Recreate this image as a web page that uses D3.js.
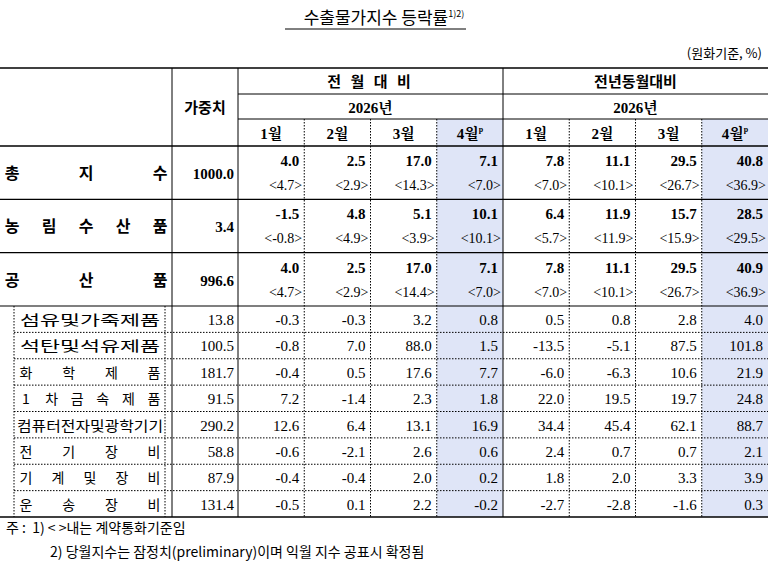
<!DOCTYPE html><html><head><meta charset="utf-8">
<script src="https://cdn.jsdelivr.net/npm/d3@7"></script>
<style>body{margin:0;background:#fff}</style></head><body>
<svg id="c" width="768" height="567"></svg>
<script>
const months=["1월","2월","3월","4월"];
const groups=["전 월 대 비","전년동월대비"];
const majorRows=["총 지 수","농 림 수 산 품","공 산 품"];
const majorWeights=["1000.0","3.4","996.6"];
const majorVals=[[4.0,2.5,17.0,7.1,7.8,11.1,29.5,40.8],[-1.5,4.8,5.1,10.1,6.4,11.9,15.7,28.5],[4.0,2.5,17.0,7.1,7.8,11.1,29.5,40.9]];
const majorContract=[[4.7,2.9,14.3,7.0,7.0,10.1,26.7,36.9],[-0.8,4.9,3.9,10.1,5.7,11.9,15.9,29.5],[4.7,2.9,14.4,7.0,7.0,10.1,26.7,36.9]];
const subRows=["섬유및가죽제품","석탄및석유제품","화 학 제 품","1 차 금 속 제 품","컴퓨터,전자및광학기기","전 기 장 비","기 계 및 장 비","운 송 장 비"];
const subWeights=["13.8","100.5","181.7","91.5","290.2","58.8","87.9","131.4"];
const subVals=[[-0.3,-0.3,3.2,0.8,0.5,0.8,2.8,4.0],[-0.8,7.0,88.0,1.5,-13.5,-5.1,87.5,101.8],[-0.4,0.5,17.6,7.7,-6.0,-6.3,10.6,21.9],[7.2,-1.4,2.3,1.8,22.0,19.5,19.7,24.8],[12.6,6.4,13.1,16.9,34.4,45.4,62.1,88.7],[-0.6,-2.1,2.6,0.6,2.4,0.7,0.7,2.1],[-0.4,-0.4,2.0,0.2,1.8,2.0,3.3,3.9],[-0.5,0.1,2.2,-0.2,-2.7,-2.8,-1.6,0.3]];

const svg=d3.select("#c");
const SERIF="'Liberation Serif','Noto Serif CJK KR','Noto Sans CJK KR',serif";
const KR="'Noto Sans CJK KR',sans-serif";
const x=d3.scaleLinear().domain([0,8]).range([238,768]);
const colX=i=>x(i);
const f1=d3.format(".1f");
const fmt=v=>f1(v).replace("\u2212","-");
const yTop=68,yH1=94,yH2=119,yH3=146;
const majorY=d3.scaleLinear().domain([0,3]).range([146,306]);
const subY=d3.scaleLinear().domain([0,8]).range([306,517]);

[3,7].forEach(i=>svg.append("rect").attr("x",colX(i)).attr("y",yH2).attr("width",colX(i+1)-colX(i)).attr("height",517-yH2).attr("fill","#dfe5f7"));

function line(x1,y1,x2,y2,dash,w){svg.append("line").attr("x1",x1).attr("y1",y1).attr("x2",x2).attr("y2",y2).attr("stroke","#000").attr("stroke-width",w||1).attr("stroke-dasharray",dash?"1.5,1.5":null);}
svg.append("text").attr("x",384).attr("y",24).attr("text-anchor","middle").attr("font-family",KR).attr("font-size",17).text("수출물가지수 등락률").append("tspan").attr("font-size",9).attr("dy",-7).text("1)2)");
line(285,29,466,29,false,1);
svg.append("text").attr("x",762).attr("y",58).attr("text-anchor","end").attr("font-family",KR).attr("font-size",13).text("(원화기준, %)");

line(0,yTop,768,yTop,false,1.5);
line(238,yH1,768,yH1);line(238,yH2,768,yH2);
line(0,yH3,768,yH3,false,1.5);
[1,2,3].forEach(i=>line(0,majorY(i),768,majorY(i),false,1.2));
[1,2,3,4,5,6,7].forEach(i=>line(14,subY(i),768,subY(i),true));
line(0,517,768,517,false,1.5);
line(172,yTop,172,517);line(238,yTop,238,517);line(colX(4),yTop,colX(4),517);
[1,2,3,5,6,7].forEach(i=>line(colX(i),yH2,colX(i),517,true));
line(14,306,14,517,true);line(165,306,165,517,true);

groups.forEach((g,k)=>{
 svg.append("text").attr("x",(colX(k*4)+colX(k*4+4))/2).attr("y",87).attr("text-anchor","middle").attr("font-family",KR).attr("font-weight","bold").attr("font-size",15).attr("letter-spacing",k===0?3:0).text(g);
 svg.append("text").attr("x",(colX(k*4)+colX(k*4+4))/2).attr("y",113).attr("text-anchor","middle").attr("font-family",SERIF).attr("font-weight","bold").attr("font-size",15).text("2026년");
});
svg.append("text").attr("x",205).attr("y",113).attr("text-anchor","middle").attr("font-family",KR).attr("font-weight","bold").attr("font-size",15).text("가중치");
for(let i=0;i<8;i++){
 const t=svg.append("text").attr("x",(colX(i)+colX(i+1))/2).attr("y",139).attr("text-anchor","middle").attr("font-family",SERIF).attr("font-weight","bold").attr("font-size",15).text(months[i%4]);
 if(i%4===3)t.append("tspan").attr("font-size",8).attr("dy",-7).text("p");
}

majorRows.forEach((r,j)=>{
 const y0=majorY(j);
 const chars=r.split(" ");
 const lx=d3.scaleLinear().domain([0,chars.length-1]).range([12,160]);
 chars.forEach((c,k)=>svg.append("text").attr("x",lx(k)).attr("y",y0+33).attr("text-anchor","middle").attr("font-family",KR).attr("font-weight","bold").attr("font-size",16).text(c));
 svg.append("text").attr("x",234).attr("y",y0+33).attr("text-anchor","end").attr("font-family",SERIF).attr("font-weight","bold").attr("font-size",15).text(majorWeights[j]);
 majorVals[j].forEach((v,i)=>{
  svg.append("text").attr("x",colX(i+1)-5).attr("y",y0+20).attr("text-anchor","end").attr("font-family",SERIF).attr("font-weight","bold").attr("font-size",15).text(fmt(v));
  svg.append("text").attr("x",colX(i+1)-2).attr("y",y0+44).attr("text-anchor","end").attr("font-family",SERIF).attr("font-size",14).text("<"+fmt(majorContract[j][i])+">");
 });
});
subRows.forEach((r,j)=>{
 const y0=subY(j)+19;
 if(r.includes(" ")){
  const chars=r.split(" ");
  const lx=d3.scaleLinear().domain([0,chars.length-1]).range([26,154]);
  chars.forEach((c,k)=>svg.append("text").attr("x",lx(k)).attr("y",y0).attr("text-anchor","middle").attr("font-family",KR).attr("font-size",14).text(c));
 } else {
  svg.append("text").attr("x",90).attr("y",y0).attr("text-anchor","middle").attr("font-family",KR).attr("font-size",14).attr("textLength",r.length>8?146:140).attr("lengthAdjust","spacingAndGlyphs").text(r.replace(",",""));
 }
 svg.append("text").attr("x",234).attr("y",y0).attr("text-anchor","end").attr("font-family",SERIF).attr("font-size",15).text(subWeights[j]);
 subVals[j].forEach((v,i)=>svg.append("text").attr("x",colX(i+1)-5).attr("y",y0).attr("text-anchor","end").attr("font-family",SERIF).attr("font-size",15).text(fmt(v)));
});
svg.append("text").attr("x",6).attr("y",533).attr("font-family",KR).attr("font-size",14).attr("xml:space","preserve").text("주 :  1) < >내는 계약통화기준임");
svg.append("text").attr("x",50).attr("y",557).attr("font-family",KR).attr("font-size",14).text("2) 당월지수는 잠정치(preliminary)이며 익월 지수 공표시 확정됨");
</script></body></html>
